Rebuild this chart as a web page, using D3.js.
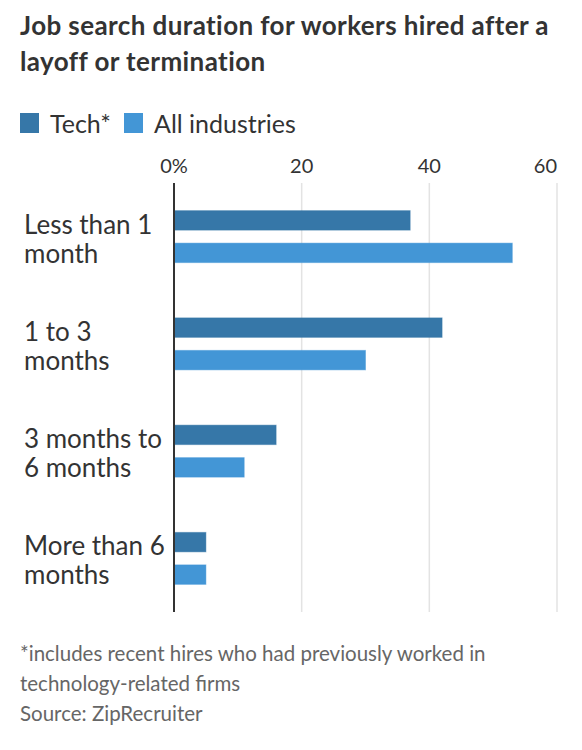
<!DOCTYPE html>
<html>
<head>
  <meta charset="utf-8">
  <title>Job search duration</title>
  <script src="https://cdn.jsdelivr.net/npm/d3@7"></script>
  <style>
    body { margin: 0; background: #fff; }
    text { font-family: Lato, "Noto Sans", sans-serif; }
  </style>
</head>
<body>
<script>

// data
var categories = [
  ["Less than 1", "month"],
  ["1 to 3", "months"],
  ["3 months to", "6 months"],
  ["More than 6", "months"]
];
var series = ["Tech*", "All industries"];
var techValues = [37, 42, 16, 5];
var allValues = [53, 30, 11, 5];
var xTicks = [0, 20, 40, 60];
var footnotes = [
  "*includes recent hires who had previously worked in",
  "technology-related firms",
  "Source: ZipRecruiter"
];

var width = 582,
    height = 750;

var colors = ["#3677a8", "#4396d6"];

var svg = d3.select("body").append("svg")
    .attr("width", width)
    .attr("height", height);

// title
svg.append("g").selectAll("text")
    .data(["Job search duration for workers hired after a", "layoff or termination"])
  .enter().append("text")
    .attr("x", 20)
    .attr("y", function(d, i) { return 35 + i * 36; })
    .attr("font-size", 26)
    .attr("font-weight", "bold")
    .attr("letter-spacing", 0.4)
    .attr("fill", "#333")
    .text(function(d) { return d; });

// legend
var legend = svg.append("g");
var legendX = [20, 124];
series.forEach(function(s, i) {
  legend.append("rect")
      .attr("x", legendX[i])
      .attr("y", 113)
      .attr("width", 19)
      .attr("height", 20)
      .attr("fill", colors[i]);
  legend.append("text")
      .attr("x", legendX[i] + 30)
      .attr("y", 133)
      .attr("font-size", 25)
      .attr("fill", "#333")
      .text(s);
});

// scales
var x = d3.scaleLinear()
    .domain([0, 60])
    .range([174, 557]);

var y0 = d3.scaleBand()
    .domain(d3.range(categories.length))
    .range([183, 612]);

var y1 = d3.scaleBand()
    .domain(series)
    .range([(y0.bandwidth() - 52) / 2, (y0.bandwidth() + 52) / 2])
    .paddingInner(0.4);

// gridlines
svg.append("g").selectAll("line")
    .data(xTicks.slice(1))
  .enter().append("line")
    .attr("x1", function(d) { return x(d); })
    .attr("x2", function(d) { return x(d); })
    .attr("y1", 183)
    .attr("y2", 612)
    .attr("stroke", "#e3e3e3")
    .attr("stroke-width", 1.5);

// tick labels on top, the last one pulled in to end at its gridline
svg.append("g").selectAll("text")
    .data(xTicks)
  .enter().append("text")
    .attr("x", function(d) { return x(d); })
    .attr("y", 173)
    .attr("text-anchor", function(d, i) { return i === xTicks.length - 1 ? "end" : "middle"; })
    .attr("font-size", 20)
    .attr("fill", "#333")
    .text(function(d) { return d === 0 ? "0%" : d; });

// bars
var rows = categories.map(function(c, i) {
  return [
    { s: series[0], v: techValues[i], c: colors[0] },
    { s: series[1], v: allValues[i], c: colors[1] }
  ];
});

var groups = svg.append("g").selectAll("g")
    .data(rows)
  .enter().append("g")
    .attr("transform", function(d, i) { return "translate(0," + y0(i) + ")"; });

groups.selectAll("rect")
    .data(function(d) { return d; })
  .enter().append("rect")
    .attr("x", x(0))
    .attr("y", function(d) { return y1(d.s); })
    .attr("width", function(d) { return x(d.v) - x(0); })
    .attr("height", y1.bandwidth())
    .attr("fill", function(d) { return d.c; })
    .attr("stroke", function(d) { return d.c; })
    .attr("stroke-opacity", 0.45)
    .attr("stroke-width", 1);

// category labels
var labels = svg.append("g").selectAll("text")
    .data(categories)
  .enter().append("text")
    .attr("font-size", 26)
    .attr("fill", "#333")
    .attr("y", function(d, i) { return y0(i) + y0.bandwidth() / 2 - 3; });

labels.selectAll("tspan")
    .data(function(d) { return d; })
  .enter().append("tspan")
    .attr("x", 24)
    .attr("dy", function(d, i) { return i === 0 ? 0 : 29; })
    .text(function(d) { return d; });

// zero axis line
svg.append("line")
    .attr("x1", x(0))
    .attr("x2", x(0))
    .attr("y1", 183)
    .attr("y2", 612)
    .attr("stroke", "#333")
    .attr("stroke-width", 2);

// footnotes
svg.append("g").selectAll("text")
    .data(footnotes)
  .enter().append("text")
    .attr("x", 20)
    .attr("y", function(d, i) { return 661 + i * 30; })
    .attr("font-size", 20.5)
    .attr("fill", "#666")
    .text(function(d) { return d; });

</script>
</body>
</html>
